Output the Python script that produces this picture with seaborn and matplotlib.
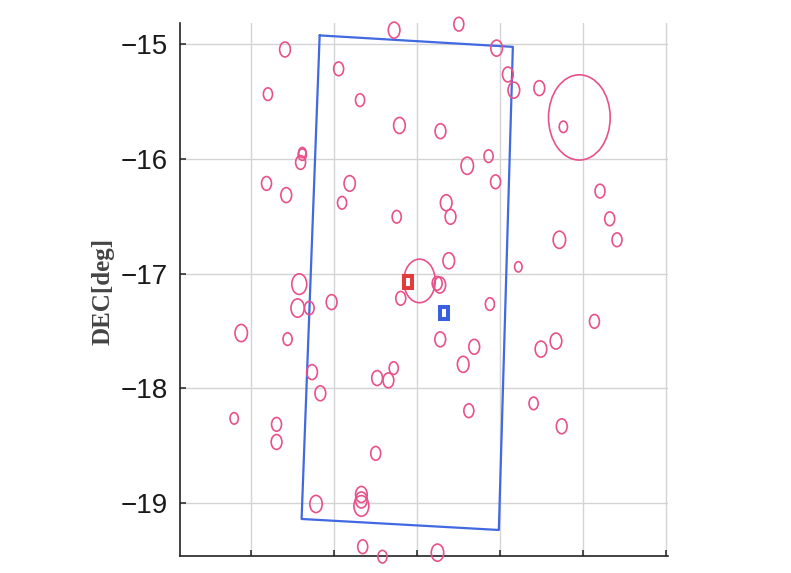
import matplotlib
matplotlib.use("Agg")
import matplotlib.pyplot as plt
from matplotlib.patches import Circle, Rectangle
import seaborn as sns
import pandas as pd

# sources (x offset, DEC, radius) - x has no labels on the original
circ_x = [0.411, 0.205, 0.620, 0.620, 0.599, 0.188, 0.426, 1.058, 0.583, 1.099,
          1.191, 0.563, 0.704, 0.973, -0.117, 0.442, 0.737, 0.837, -0.202, 0.309,
          0.309, 0.785, 1.727, 2.507, 2.963, 3.099, 1.316, 1.791, 2.286, 2.866,
          2.609, 2.950, 2.355, 2.407, 1.758, 2.386, 2.033, 2.246, 2.278, 1.807,
          2.882, 2.283, 2.693, 2.560, 1.722, 1.522, 1.658, 2.628, 1.505, 1.332,
          1.332, 1.332, 1.348, 1.586, 2.250, 3.171, 3.478, 3.961, 3.768, 4.210,
          4.327, 4.415, 3.720, 3.225, 4.143, 3.679, 3.498, 3.409, 3.748]
circ_y = [-15.044, -15.434, -15.944, -15.962, -16.030, -16.213, -16.315, -15.213, -17.092, -16.382,
          -16.213, -17.301, -17.301, -17.249, -17.519, -17.572, -17.860, -18.045, -18.264, -18.316,
          -18.470, -19.011, -14.875, -14.823, -15.032, -15.262, -15.486, -15.707, -15.757, -15.975,
          -16.059, -16.199, -16.382, -16.504, -16.504, -16.888, -17.064, -17.085, -17.100, -17.216,
          -17.266, -17.574, -17.639, -17.792, -17.825, -17.912, -17.932, -18.197, -18.569, -18.928,
          -18.976, -19.028, -19.384, -19.471, -19.436, -15.399, -15.381, -15.637, -15.719, -16.280,
          -16.522, -16.705, -16.705, -16.941, -17.417, -17.589, -17.659, -18.133, -18.333]
circ_r = [0.065, 0.055, 0.045, 0.05, 0.06, 0.06, 0.065, 0.06, 0.09, 0.055,
          0.068, 0.08, 0.058, 0.065, 0.075, 0.055, 0.065, 0.065, 0.05, 0.06,
          0.065, 0.075, 0.07, 0.06, 0.07, 0.065, 0.055, 0.07, 0.065, 0.055,
          0.075, 0.06, 0.07, 0.065, 0.055, 0.07, 0.19, 0.06, 0.07, 0.06,
          0.055, 0.065, 0.065, 0.07, 0.055, 0.065, 0.065, 0.06, 0.06, 0.07,
          0.07, 0.09, 0.06, 0.055, 0.075, 0.07, 0.065, 0.372, 0.05, 0.06,
          0.06, 0.06, 0.075, 0.045, 0.06, 0.07, 0.07, 0.055, 0.065]

# field of view outline
fov_x = [0.829, 3.159, 2.990, 0.611, 0.829]
fov_y = [-14.921, -15.021, -19.238, -19.142, -14.921]

# the two marked positions
mark_x = [1.897, 2.326]
mark_y = [-17.077, -17.346]
mark_col = ["#e03c3c", "#3c5fe0"]

yticks = [-15, -16, -17, -18, -19]
xticks = [0, 1, 2, 3, 4, 5]

sns.set_theme(style="white")
plt.rcParams["font.family"] = ["Liberation Sans", "DejaVu Sans"]

fig = plt.figure(figsize=(7.91, 5.73), dpi=100)
ax = fig.add_axes([0.2276, 0.0297, 0.6169, 0.9307])

fov = pd.DataFrame({"x": fov_x, "y": fov_y})
sns.lineplot(data=fov, x="x", y="y", sort=False, estimator=None, color="#4169e1",
             lw=1.6, ax=ax, zorder=3)

for x, y, r in zip(circ_x, circ_y, circ_r):
    ax.add_patch(Circle((x, y), r, fill=False, ec="#e8528a", lw=1.2, clip_on=False, zorder=4))

for x, y, c in zip(mark_x, mark_y, mark_col):
    ax.add_patch(Rectangle((x - 0.045, y - 0.053), 0.09, 0.106, fill=False, ec=c, lw=2.9, zorder=5))

ax.set_xlim(-0.855, 5.03)
ax.set_ylim(-19.465, -14.81)
ax.set_xticks(xticks)
ax.set_xticklabels([])
ax.set_yticks(yticks)
ax.set_yticklabels(["\u221215", "\u221216", "\u221217", "\u221218", "\u221219"], fontsize=20, color="#1a1a1a")
ax.grid(True, color="#d4d4d4", lw=1.0)
ax.tick_params(direction="in", length=4, width=1.1, color="#222222", pad=9, left=True, bottom=True)
for s in ["top", "right"]:
    ax.spines[s].set_visible(False)
for s in ["left", "bottom"]:
    ax.spines[s].set_color("#222222")
    ax.spines[s].set_linewidth(1.2)
ax.set_xlabel("")
ax.set_ylabel("DEC[deg]", fontsize=18, family=["Liberation Serif", "DejaVu Serif"],
              fontweight="bold", color="#444444")
ax.yaxis.set_label_coords(-0.135, 0.496)

fig.savefig("out.png", dpi=100)
